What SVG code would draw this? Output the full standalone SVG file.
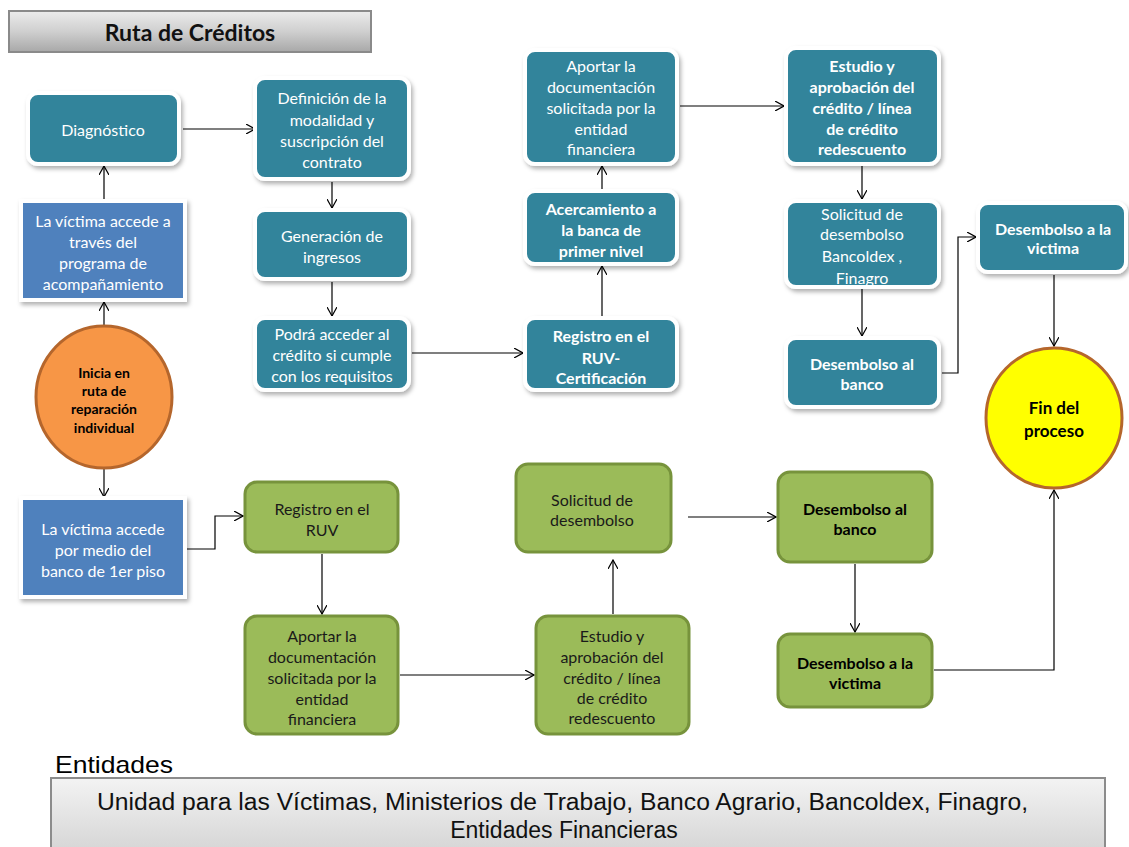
<svg xmlns="http://www.w3.org/2000/svg" width="1129" height="847" viewBox="0 0 1129 847">
<defs>
<linearGradient id="gTitle" x1="0" y1="0" x2="0" y2="1">
<stop offset="0" stop-color="#ececec"/><stop offset="0.5" stop-color="#cfcfcf"/><stop offset="1" stop-color="#a8a8a8"/>
</linearGradient>
<linearGradient id="gBottom" x1="0" y1="0" x2="0" y2="1">
<stop offset="0" stop-color="#f3f3f3"/><stop offset="1" stop-color="#d6d6d6"/>
</linearGradient>
<filter id="sh" x="-10%" y="-10%" width="125%" height="130%">
<feDropShadow dx="2" dy="3" stdDeviation="2" flood-color="#000" flood-opacity="0.3"/>
</filter>
<marker id="arr" viewBox="0 0 10 10" markerWidth="10" markerHeight="10" refX="9" refY="5" orient="auto" markerUnits="userSpaceOnUse">
<path d="M0,0 L9,5 L0,10" fill="none" stroke="#000" stroke-width="1.2"/>
</marker>
</defs>
<style>
.teal{fill:#31849B;stroke:#fff;stroke-width:4;filter:url(#sh)}
.blue{fill:#4F81BD;stroke:#fff;stroke-width:4;filter:url(#sh)}
.green{fill:#9BBB59;stroke:#77933C;stroke-width:3}
.tw{font-family:Lato,"Open Sans",sans-serif;font-size:16px;fill:#fff;text-anchor:middle;dominant-baseline:central}
.twb{font-family:Lato,"Open Sans",sans-serif;font-size:16px;font-weight:bold;fill:#fff;text-anchor:middle;dominant-baseline:central}
.tk{font-family:Lato,"Open Sans",sans-serif;font-size:16px;fill:#1a1a1a;text-anchor:middle;dominant-baseline:central}
.tkb{font-family:Lato,"Open Sans",sans-serif;font-size:16px;font-weight:bold;fill:#000;text-anchor:middle;dominant-baseline:central}
.con{fill:none;stroke:#000;stroke-width:1.2;marker-end:url(#arr)}
</style>
<rect width="1129" height="847" fill="#fff"/>

<g id="title">
<rect x="9" y="11" width="362" height="41" fill="url(#gTitle)" stroke="#8a8a8a" stroke-width="2"/>
<text x="190" y="32" font-family="Lato,'Open Sans',sans-serif" font-size="23" font-weight="bold" fill="#111" text-anchor="middle" dominant-baseline="central">Ruta de Créditos</text>
</g>

<g id="connectors">
<path class="con" d="M183,129 L255,129"/>
<path class="con" d="M104,202 L104,166"/>
<path class="con" d="M104,326 L104,302"/>
<path class="con" d="M104,469 L104,497"/>
<path class="con" d="M186,549 L215,549 L215,516 L243,516"/>
<path class="con" d="M332,182 L332,208"/>
<path class="con" d="M332,282 L332,316"/>
<path class="con" d="M412,353 L523,353"/>
<path class="con" d="M602,318 L602,266"/>
<path class="con" d="M602,190 L602,166"/>
<path class="con" d="M680,106 L784,106"/>
<path class="con" d="M862,166 L862,199"/>
<path class="con" d="M862,289 L862,336"/>
<path class="con" d="M942,373 L958,373 L958,237 L976,237"/>
<path class="con" d="M1054,275 L1054,346"/>
<path class="con" d="M322,554 L322,614"/>
<path class="con" d="M400,675 L534,675"/>
<path class="con" d="M613,614 L613,560"/>
<path class="con" d="M688,517 L776,517"/>
<path class="con" d="M855,564 L855,632"/>
<path class="con" d="M934,670 L1054,670 L1054,490"/>
</g>

<g id="n-diagnostico">
<rect class="teal" x="28" y="93" width="151" height="71" rx="10"/>
<text class="tw" x="103" y="129">Diagnóstico</text>
</g>
<g id="n-definicion">
<rect class="teal" x="255" y="78" width="154" height="101" rx="10"/>
<text class="tw" x="332" y="97">Definición de la</text>
<text class="tw" x="332" y="119">modalidad y</text>
<text class="tw" x="332" y="140">suscripción del</text>
<text class="tw" x="332" y="161">contrato</text>
</g>
<g id="n-generacion">
<rect class="teal" x="255" y="210" width="154" height="69" rx="10"/>
<text class="tw" x="332" y="235">Generación de</text>
<text class="tw" x="332" y="256">ingresos</text>
</g>
<g id="n-podra">
<rect class="teal" x="255" y="318" width="154" height="72" rx="10"/>
<text class="tw" x="332" y="333">Podrá acceder al</text>
<text class="tw" x="332" y="354">crédito si cumple</text>
<text class="tw" x="332" y="375">con los requisitos</text>
</g>
<g id="n-aportar1">
<rect class="teal" x="525" y="50" width="152" height="114" rx="10"/>
<text class="tw" x="601" y="65">Aportar la</text>
<text class="tw" x="601" y="86">documentación</text>
<text class="tw" x="601" y="107">solicitada por la</text>
<text class="tw" x="601" y="128">entidad</text>
<text class="tw" x="601" y="148">financiera</text>
</g>
<g id="n-acercamiento">
<rect class="teal" x="525" y="191" width="152" height="73" rx="10"/>
<text class="twb" x="601" y="208">Acercamiento a</text>
<text class="twb" x="601" y="229">la banca de</text>
<text class="twb" x="601" y="250">primer nivel</text>
</g>
<g id="n-registro1">
<rect class="teal" x="525" y="318" width="152" height="72" rx="10"/>
<text class="twb" x="601" y="335">Registro en el</text>
<text class="twb" x="601" y="357">RUV-</text>
<text class="twb" x="601" y="377">Certificación</text>
</g>
<g id="n-estudio1">
<rect class="teal" x="786" y="48" width="153" height="116" rx="10"/>
<text class="twb" x="862" y="65">Estudio y</text>
<text class="twb" x="862" y="86">aprobación del</text>
<text class="twb" x="862" y="107">crédito /  línea</text>
<text class="twb" x="862" y="128">de crédito</text>
<text class="twb" x="862" y="148">redescuento</text>
</g>
<g id="n-solicitud1">
<rect class="teal" x="786" y="201" width="153" height="86" rx="10"/>
<text class="tw" x="862" y="213">Solicitud de</text>
<text class="tw" x="862" y="233">desembolso</text>
<text class="tw" x="862" y="255">Bancoldex ,</text>
<text class="tw" x="862" y="277">Finagro</text>
</g>
<g id="n-desbanco1">
<rect class="teal" x="786" y="338" width="153" height="69" rx="10"/>
<text class="twb" x="862" y="363">Desembolso al</text>
<text class="twb" x="862" y="383">banco</text>
</g>
<g id="n-desvictima1">
<rect class="teal" x="978" y="203" width="148" height="69" rx="10"/>
<text class="twb" x="1053" y="228">Desembolso a la</text>
<text class="twb" x="1053" y="247">victima</text>
</g>

<g id="n-inicia">
<ellipse cx="104" cy="397" rx="68" ry="71" fill="#F79646" stroke="#B5662C" stroke-width="3"/>
<text font-family="Lato,'Open Sans',sans-serif" font-size="14" font-weight="bold" fill="#000" text-anchor="middle" dominant-baseline="central">
<tspan x="104" y="372">Inicia en</tspan><tspan x="104" y="390">ruta  de</tspan><tspan x="104" y="408">reparación</tspan><tspan x="104" y="427">individual</tspan></text>
</g>
<g id="n-victima1">
<rect class="blue" x="21" y="201" width="164" height="99"/>
<text class="tw" x="103" y="220">La víctima accede a</text>
<text class="tw" x="103" y="241">través del</text>
<text class="tw" x="103" y="262">programa de</text>
<text class="tw" x="103" y="283">acompañamiento</text>
</g>
<g id="n-victima2">
<rect class="blue" x="21" y="498" width="164" height="99"/>
<text class="tw" x="103" y="528">La víctima accede</text>
<text class="tw" x="103" y="549">por medio del</text>
<text class="tw" x="103" y="570">banco de 1er piso</text>
</g>

<g id="n-registro2">
<rect class="green" x="245" y="482" width="153" height="70" rx="12"/>
<text class="tk" x="322" y="508">Registro en el</text>
<text class="tk" x="322" y="529">RUV</text>
</g>
<g id="n-aportar2">
<rect class="green" x="245" y="616" width="153" height="118" rx="12"/>
<text class="tk" x="322" y="635">Aportar la</text>
<text class="tk" x="322" y="656">documentación</text>
<text class="tk" x="322" y="677">solicitada por la</text>
<text class="tk" x="322" y="698">entidad</text>
<text class="tk" x="322" y="718">financiera</text>
</g>
<g id="n-solicitud2">
<rect class="green" x="516" y="464" width="155" height="88" rx="12"/>
<text class="tk" x="592" y="499">Solicitud de</text>
<text class="tk" x="592" y="519">desembolso</text>
</g>
<g id="n-estudio2">
<rect class="green" x="536" y="616" width="153" height="118" rx="12"/>
<text class="tk" x="612" y="635">Estudio y</text>
<text class="tk" x="612" y="656">aprobación del</text>
<text class="tk" x="612" y="677">crédito /  línea</text>
<text class="tk" x="612" y="697">de crédito</text>
<text class="tk" x="612" y="717">redescuento</text>
</g>
<g id="n-desbanco2">
<rect class="green" x="778" y="472" width="154" height="90" rx="12"/>
<text class="tkb" x="855" y="508">Desembolso al</text>
<text class="tkb" x="855" y="528">banco</text>
</g>
<g id="n-desvictima2">
<rect class="green" x="778" y="634" width="154" height="73" rx="12"/>
<text class="tkb" x="855" y="662">Desembolso a la</text>
<text class="tkb" x="855" y="682">victima</text>
</g>

<g id="n-fin">
<ellipse cx="1054" cy="418" rx="68" ry="70" fill="#FFFF00" stroke="#B5662C" stroke-width="3"/>
<text font-family="Lato,'Open Sans',sans-serif" font-size="17" font-weight="bold" fill="#000" text-anchor="middle" dominant-baseline="central">
<tspan x="1054" y="407">Fin del</tspan><tspan x="1054" y="430">proceso</tspan></text>
</g>

<g id="entidades">
<text x="55" y="773" font-family="'Liberation Sans',Arial,sans-serif" font-size="24" fill="#000" textLength="118" lengthAdjust="spacingAndGlyphs">Entidades</text>
<rect x="51" y="778" width="1054" height="72" fill="url(#gBottom)" stroke="#8c8c8c" stroke-width="2"/>
<text x="97" y="810" font-family="'Liberation Sans',Arial,sans-serif" font-size="23" fill="#111" textLength="931" lengthAdjust="spacingAndGlyphs">Unidad para las Víctimas, Ministerios de Trabajo, Banco Agrario, Bancoldex, Finagro,</text>
<text x="564" y="838" font-family="'Liberation Sans',Arial,sans-serif" font-size="23" fill="#111" text-anchor="middle">Entidades Financieras</text>
</g>
</svg>
